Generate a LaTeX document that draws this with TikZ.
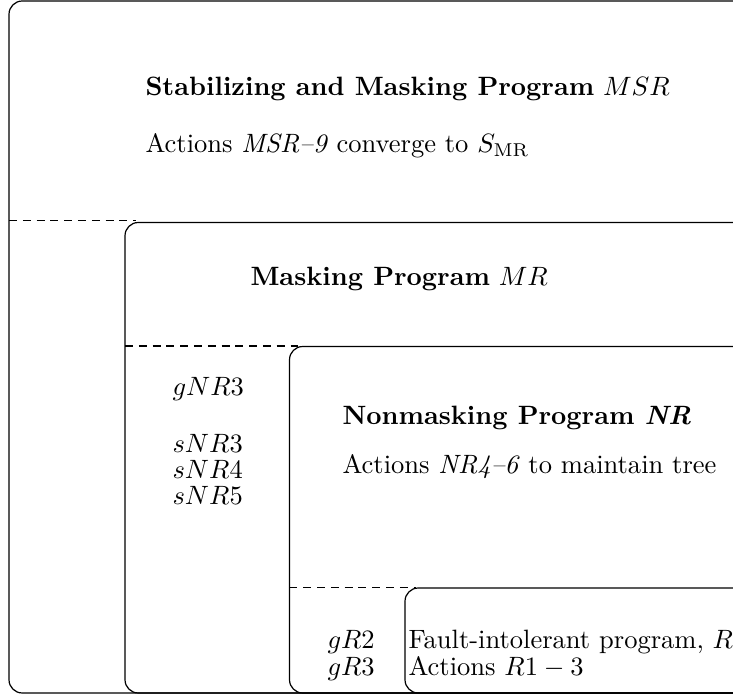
\documentclass[tikz,border=0pt]{standalone}
\begin{document}
\begin{tikzpicture}[x=0.377pt,y=-0.377pt,
  frame/.style={draw,line width=0.45pt,rounded corners=5pt},
  sep/.style={draw,line width=0.45pt,dash pattern=on 3pt off 2.2pt},
  txt/.style={anchor=base west,inner sep=0pt,font=\fontsize{10}{12}\selectfont}]
\useasboundingbox (0,0) rectangle (733,696);
\clip (0,0) rectangle (733,696);
% boxes
\draw[frame] (790,1) -- (9,1) -- (9,693) -- (790,693);
\draw[frame] (790,222.5) -- (125,222.5) -- (125,693) -- (790,693);
\draw[frame] (790,346.5) -- (289.5,346.5) -- (289.5,693) -- (790,693);
\draw[frame] (790,588) -- (405,588) -- (405,693) -- (790,693);
% dashed separators
\coordinate (d1a) at (9,220.5);   \coordinate (d1b) at (136,220.5);
\coordinate (d2a) at (125,346);   \coordinate (d2b) at (299,346);
\coordinate (d3a) at (289.5,587.5); \coordinate (d3b) at (416,587.5);
\draw[sep] (d1a) -- (d1b);
\draw[sep] (d2a) -- (d2b);
\draw[sep] (d3a) -- (d3b);
% texts
\node[txt] (t1) at (145,96) {\textbf{Stabilizing and Masking Program} $MSR$};
\node[txt] (t2) at (145,153) {Actions \textit{MSR--9} converge to $S_{\mathrm{MR}}$};
\node[txt] (t3) at (250,286) {\textbf{Masking Program} $MR$};
\node[txt] (g1) at (172,396) {$gNR3$};
\node[txt] (s3) at (172,452.5) {$sNR3$};
\node[txt] (s4) at (172,478.5) {$sNR4$};
\node[txt] (s5) at (172,504.5) {$sNR5$};
\node[txt] (t4) at (342,425) {\textbf{Nonmasking Program \textit{NR}}};
\node[txt] (t5) at (342,473) {Actions \textit{NR4--6} to maintain tree};
\node[txt] (gr2) at (327,648) {$gR2$};
\node[txt] (gr3) at (327,675) {$gR3$};
\node[txt] (t6) at (408,648) {Fault-intolerant program, $R$};
\node[txt] (t7) at (408,675) {Actions $R1-3$};
\end{tikzpicture}
\end{document}
